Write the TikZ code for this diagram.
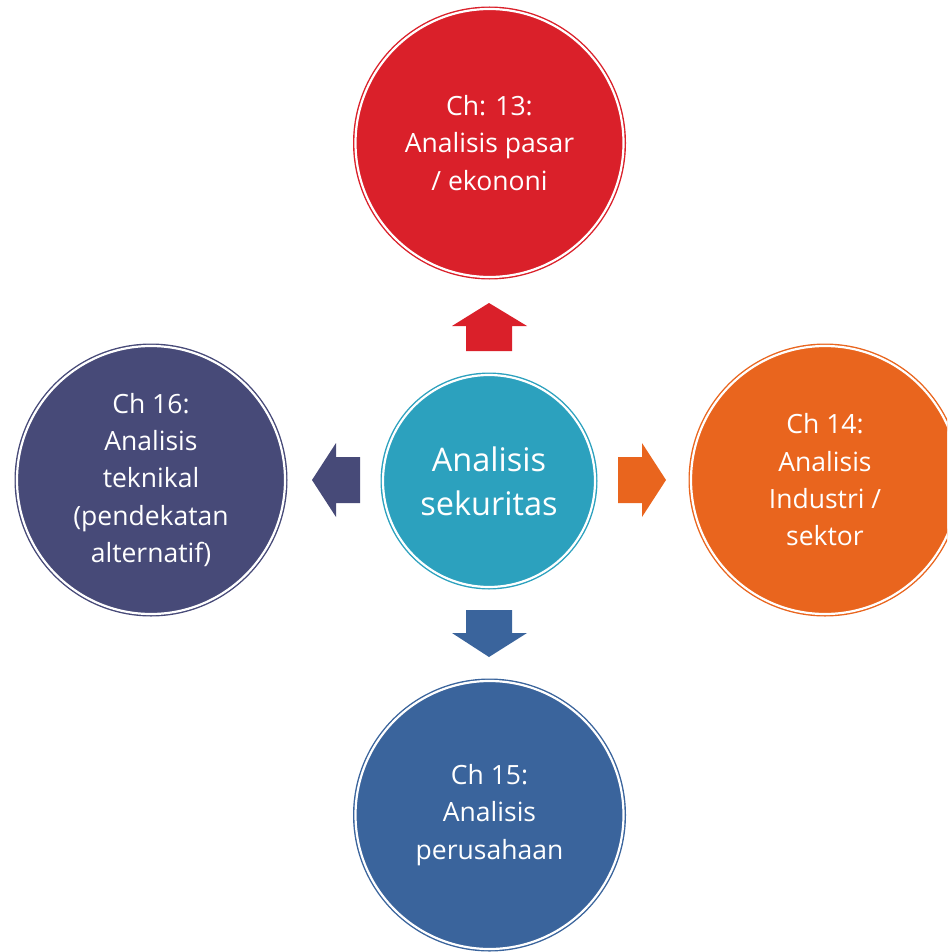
\documentclass[tikz,border=0pt]{standalone}
\usepackage{fontspec}
\setmainfont{Open Sans}
\definecolor{cred}{RGB}{218,32,42}
\definecolor{corange}{RGB}{233,101,30}
\definecolor{cslate}{RGB}{71,74,120}
\definecolor{cblue}{RGB}{58,100,156}
\definecolor{cteal}{RGB}{44,161,190}
\begin{document}
\begin{tikzpicture}[x=1pt,y=-1pt,
  ring/.style={circle, draw=#1, fill=#1, line width=1.4pt, double=white, double distance=2.2pt,
    inner sep=0pt, outer sep=0pt, text=white, align=center},
  outer/.style={ring=#1, minimum size=268pt, font=\fontsize{26.5}{37.3}\selectfont},
  inner/.style={ring=#1, minimum size=212pt, font=\fontsize{32.5}{44}\selectfont},
  blockarrow/.style={fill=#1, draw=none}
]
\useasboundingbox (0,0) rectangle (947,952);
\clip (0,0) rectangle (947,952);
\node[inner=cteal] (center) at (489,481) {Analisis\\sekuritas};
\node[outer=cred] (top) at (489.5,143) {Ch: 13:\\Analisis pasar\\/ ekononi};
\node[outer=corange] (right) at (825,480) {Ch 14:\\Analisis\\Industri /\\sektor};
\node[outer=cblue] (bottom) at (489.5,815) {Ch 15:\\Analisis\\perusahaan};
\node[outer=cslate] (left) at (151,480) {Ch 16:\\Analisis\\teknikal\\(pendekatan\\alternatif)};
% block arrows
\fill[blockarrow=cred] (466,351) -- (466,326) -- (452,326) -- (489,303) -- (527,326) -- (512,326) -- (512,351) -- cycle;
\fill[blockarrow=corange] (618,457) -- (642,457) -- (642,443) -- (666,480) -- (642,517) -- (642,503) -- (618,503) -- cycle;
\fill[blockarrow=cblue] (466,610) -- (466,633) -- (452,633) -- (489,657) -- (527,633) -- (512,633) -- (512,610) -- cycle;
\fill[blockarrow=cslate] (360,457) -- (336,457) -- (336,443) -- (312,480) -- (336,517) -- (336,503) -- (360,503) -- cycle;
\end{tikzpicture}
\end{document}
